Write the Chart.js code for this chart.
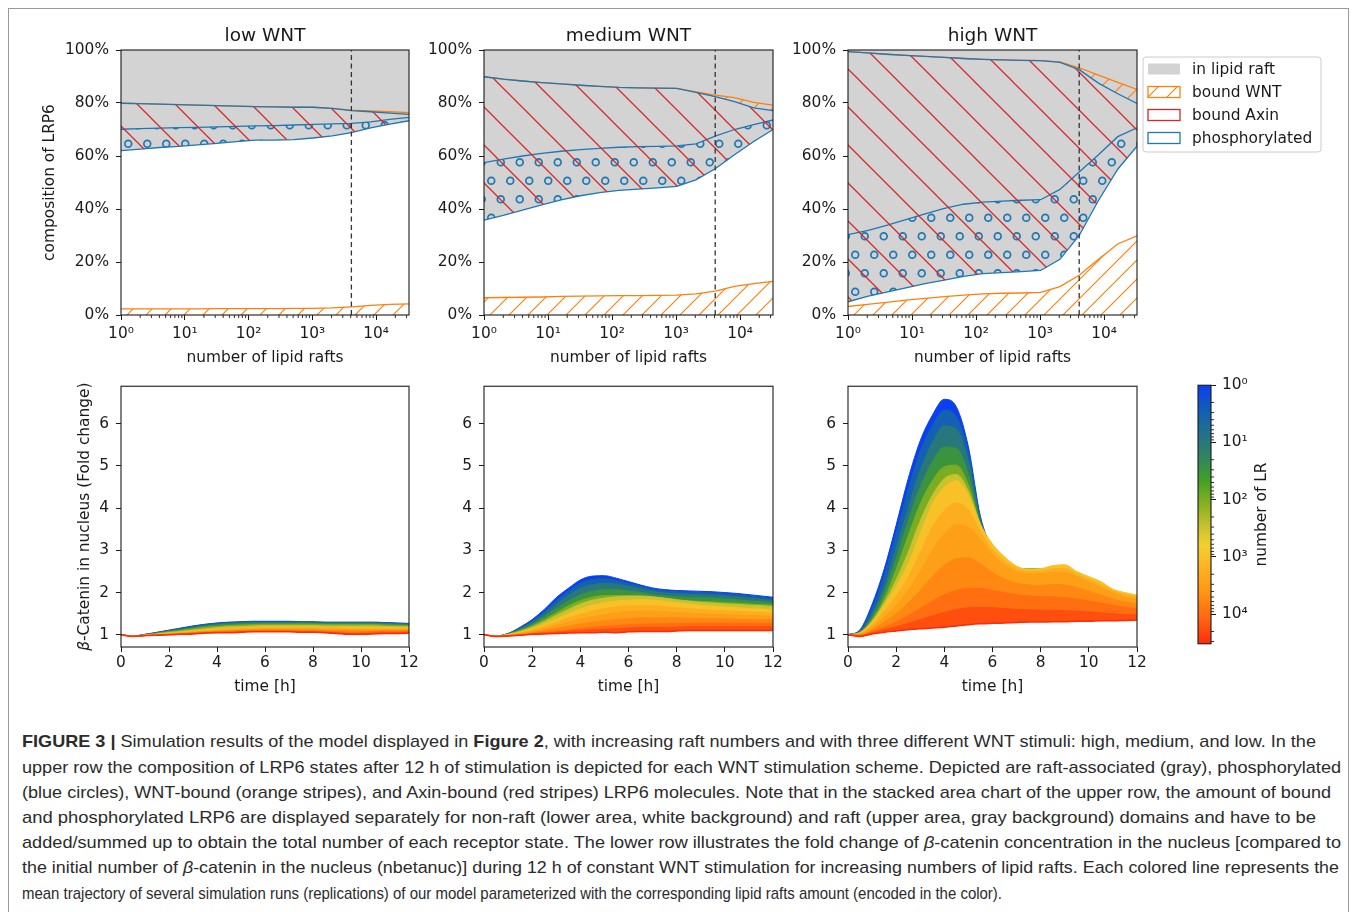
<!DOCTYPE html>
<html><head><meta charset="utf-8">
<script src="https://cdn.jsdelivr.net/npm/chart.js@4.4.0/dist/chart.umd.min.js"></script>
<style>
html,body{margin:0;padding:0;background:#fff;}
body{width:1358px;height:912px;position:relative;overflow:hidden;font-family:"DejaVu Sans";}
#frame{position:absolute;left:8px;top:8px;width:1339px;height:920px;border:1.5px solid #9a9a9a;border-bottom:none;}
canvas{position:absolute;}
#caption{position:absolute;left:22px;top:729.4px;font-family:"Liberation Sans Narrow","Liberation Sans",Arial,sans-serif;font-size:17px;color:#2b2b2b;line-height:25.2px;}
#caption .ln{white-space:nowrap;display:block;transform-origin:0 50%;width:max-content;}
</style></head>
<body>
<div id="frame"></div>
<canvas id="c1"></canvas><canvas id="c2"></canvas><canvas id="c3"></canvas>
<canvas id="c4"></canvas><canvas id="c5"></canvas><canvas id="c6"></canvas>
<canvas id="cb"></canvas>
<div id="caption">
<span class="ln" data-w="1294"><b>FIGURE 3 |</b> Simulation results of the model displayed in <b>Figure 2</b>, with increasing raft numbers and with three different WNT stimuli: high, medium, and low. In the</span>
<span class="ln" data-w="1319">upper row the composition of LRP6 states after 12 h of stimulation is depicted for each WNT stimulation scheme. Depicted are raft-associated (gray), phosphorylated</span>
<span class="ln" data-w="1309">(blue circles), WNT-bound (orange stripes), and Axin-bound (red stripes) LRP6 molecules. Note that in the stacked area chart of the upper row, the amount of bound</span>
<span class="ln" data-w="1294">and phosphorylated LRP6 are displayed separately for non-raft (lower area, white background) and raft (upper area, gray background) domains and have to be</span>
<span class="ln" data-w="1319">added/summed up to obtain the total number of each receptor state. The lower row illustrates the fold change of <i>β</i>-catenin concentration in the nucleus [compared to</span>
<span class="ln" data-w="1317">the initial number of <i>β</i>-catenin in the nucleus (nbetanuc)] during 12 h of constant WNT stimulation for increasing numbers of lipid rafts. Each colored line represents the</span>
<span class="ln" data-w="980">mean trajectory of several simulation runs (replications) of our model parameterized with the corresponding lipid rafts amount (encoded in the color).</span>
</div>
<script>
// ---------------- DATA ----------------
const panelTitles = ['low WNT', 'medium WNT', 'high WNT'];
const stateLabels = ['in lipid raft', 'bound WNT', 'bound Axin', 'phosphorylated'];
const raftCounts = [1,2,4,8,16,32,64,128,256,512,1024,2048,4096,8192,16384,32768];
const raftThreshold = 4096;
const xMajorTicks = [1,10,100,1000,10000];
const yPercentTicks = [0,20,40,60,80,100];

// low WNT (percent of LRP6, cumulative boundaries)
const lowNonRaftWnt = [2.3,2.3,2.3,2.3,2.3,2.4,2.4,2.4,2.4,2.5,2.5,2.7,3.1,3.6,4.0,4.2];
const lowRaftBase   = [62.0,62.6,63.2,63.6,64.2,64.8,65.4,66.0,66.0,66.2,66.8,67.6,68.8,70.6,72.0,73.3];
const lowPhosTop    = [70.1,70.3,70.5,70.7,70.8,71.0,71.2,71.4,71.5,71.7,71.9,72.1,72.3,72.9,73.8,74.6];
const lowAxinTop    = [79.9,79.8,79.6,79.4,79.2,79.0,78.8,78.6,78.5,78.4,78.4,78.0,77.1,76.7,76.2,75.7];
const lowRaftWntTop = [79.9,79.8,79.6,79.4,79.2,79.0,78.8,78.6,78.5,78.4,78.4,78.0,77.3,77.0,76.7,76.4];
// medium WNT
const medNonRaftWnt = [6.5,6.6,6.7,6.8,7.0,7.1,7.2,7.3,7.3,7.4,7.5,8.0,9.0,10.8,11.8,12.7];
const medRaftBase   = [35.8,37.6,39.6,41.6,43.4,45.0,46.2,47.0,47.5,48.0,48.5,51.0,55.2,60.5,65.5,70.0];
const medPhosTop    = [57.5,58.8,60.0,61.0,61.8,62.4,62.9,63.3,63.5,63.6,63.8,64.6,67.5,70.0,71.8,73.6];
const medAxinTop    = [89.9,89.0,88.3,87.7,87.2,86.7,86.3,85.9,85.7,85.6,85.5,84.0,82.4,80.5,78.2,77.1];
const medRaftWntTop = [89.9,89.0,88.3,87.7,87.2,86.7,86.3,85.9,85.7,85.6,85.5,84.2,83.0,82.0,80.2,79.2];
// high WNT
const highNonRaftWnt = [3.2,4.0,4.8,5.6,6.3,6.9,7.5,8.0,8.2,8.3,8.5,10.7,15.0,21.0,26.8,29.9];
const highRaftBase   = [5.0,7.0,8.6,10.2,11.8,13.2,14.6,15.6,16.0,16.4,16.8,21.0,30.0,43.2,55.0,63.7];
const highPhosTop    = [30.3,31.8,33.8,36.0,38.2,40.2,41.8,42.6,43.0,43.3,43.5,47.4,54.0,60.5,67.3,70.6];
const highAxinTop    = [99.4,98.9,98.4,98.0,97.6,97.2,96.8,96.5,96.3,96.1,96.0,95.3,92.6,87.5,83.5,79.8];
const highRaftWntTop = [99.4,98.9,98.4,98.0,97.6,97.2,96.8,96.5,96.3,96.1,96.0,95.5,93.3,90.5,87.8,85.1];

// fold change of nuclear beta-catenin; one row per lipid raft number
const timeHours = [0,0.5,1,1.5,2,2.5,3,3.5,4,4.5,5,5.5,6,6.5,7,7.5,8,8.5,9,9.5,10,10.5,11,11.5,12];
const timeTicks = [0,2,4,6,8,10,12];
const foldTicks = [1,2,3,4,5,6];
const lrLevels = [1,3,10,30,100,300,1000,1800,3000,5600,10000,18000,32768];
const foldLowWnt = [
 [1.00,0.97,1.01,1.06,1.11,1.16,1.21,1.25,1.28,1.30,1.31,1.32,1.32,1.32,1.32,1.31,1.31,1.30,1.30,1.30,1.30,1.30,1.29,1.28,1.27],
 [1.00,0.97,1.01,1.05,1.10,1.15,1.20,1.24,1.27,1.29,1.30,1.31,1.31,1.31,1.31,1.30,1.30,1.29,1.29,1.29,1.29,1.29,1.28,1.27,1.26],
 [1.00,0.97,1.00,1.04,1.09,1.13,1.18,1.22,1.25,1.27,1.28,1.29,1.29,1.29,1.29,1.29,1.29,1.28,1.28,1.28,1.28,1.28,1.27,1.26,1.25],
 [1.00,0.97,1.00,1.04,1.08,1.12,1.16,1.20,1.23,1.25,1.26,1.27,1.27,1.27,1.27,1.27,1.27,1.26,1.26,1.26,1.26,1.26,1.25,1.24,1.23],
 [1.00,0.97,1.00,1.03,1.07,1.10,1.14,1.18,1.20,1.22,1.23,1.24,1.25,1.25,1.25,1.25,1.25,1.24,1.24,1.24,1.24,1.24,1.23,1.22,1.21],
 [1.00,0.97,0.99,1.02,1.05,1.08,1.11,1.14,1.17,1.19,1.20,1.21,1.22,1.22,1.22,1.22,1.22,1.21,1.21,1.21,1.21,1.21,1.20,1.19,1.19],
 [1.00,0.97,0.99,1.01,1.04,1.06,1.09,1.11,1.13,1.15,1.16,1.17,1.18,1.18,1.18,1.18,1.18,1.17,1.17,1.17,1.17,1.17,1.17,1.16,1.16],
 [1.00,0.97,0.98,1.00,1.03,1.05,1.07,1.09,1.11,1.13,1.14,1.15,1.16,1.16,1.16,1.16,1.16,1.15,1.15,1.14,1.14,1.14,1.14,1.14,1.14],
 [1.00,0.97,0.98,1.00,1.02,1.04,1.06,1.08,1.10,1.11,1.12,1.13,1.14,1.14,1.14,1.14,1.14,1.13,1.13,1.12,1.12,1.12,1.12,1.12,1.12],
 [1.00,0.97,0.98,0.99,1.01,1.03,1.05,1.07,1.08,1.09,1.10,1.11,1.12,1.12,1.12,1.11,1.11,1.10,1.10,1.09,1.09,1.09,1.10,1.10,1.10],
 [1.00,0.97,0.98,0.99,1.01,1.02,1.04,1.05,1.07,1.08,1.09,1.09,1.10,1.10,1.10,1.09,1.09,1.08,1.07,1.06,1.06,1.07,1.08,1.08,1.08],
 [1.00,0.96,0.98,0.99,1.00,1.01,1.03,1.04,1.06,1.06,1.07,1.08,1.08,1.08,1.08,1.07,1.07,1.06,1.05,1.03,1.03,1.04,1.05,1.05,1.06],
 [1.00,0.96,0.98,0.99,1.00,1.01,1.02,1.04,1.05,1.05,1.06,1.07,1.07,1.07,1.07,1.06,1.06,1.05,1.03,1.01,1.01,1.02,1.03,1.03,1.04]
];
const foldMediumWnt = [
 [1.00,0.97,1.03,1.18,1.36,1.60,1.88,2.10,2.30,2.39,2.40,2.34,2.26,2.18,2.11,2.07,2.05,2.04,2.03,2.02,2.00,1.98,1.95,1.92,1.89],
 [1.00,0.97,1.03,1.16,1.33,1.55,1.81,2.03,2.22,2.31,2.33,2.29,2.22,2.15,2.08,2.04,2.02,2.01,2.00,1.99,1.97,1.95,1.92,1.89,1.86],
 [1.00,0.97,1.02,1.14,1.29,1.49,1.72,1.93,2.10,2.19,2.22,2.20,2.15,2.09,2.03,1.99,1.97,1.96,1.95,1.94,1.92,1.90,1.87,1.84,1.81],
 [1.00,0.97,1.02,1.12,1.25,1.42,1.62,1.80,1.95,2.03,2.07,2.07,2.04,2.00,1.95,1.92,1.90,1.89,1.88,1.87,1.85,1.83,1.80,1.78,1.76],
 [1.00,0.97,1.01,1.10,1.21,1.36,1.52,1.68,1.81,1.89,1.93,1.93,1.92,1.90,1.87,1.84,1.82,1.80,1.79,1.78,1.76,1.75,1.73,1.71,1.70],
 [1.00,0.97,1.01,1.08,1.18,1.31,1.46,1.60,1.73,1.82,1.87,1.90,1.92,1.92,1.90,1.87,1.83,1.80,1.77,1.75,1.73,1.72,1.70,1.69,1.67],
 [1.00,0.97,1.00,1.06,1.14,1.25,1.37,1.50,1.61,1.70,1.76,1.80,1.82,1.83,1.82,1.79,1.76,1.73,1.70,1.68,1.66,1.64,1.62,1.61,1.59],
 [1.00,0.97,0.99,1.04,1.11,1.20,1.29,1.40,1.49,1.56,1.62,1.66,1.68,1.69,1.69,1.67,1.64,1.62,1.60,1.58,1.57,1.55,1.54,1.53,1.51],
 [1.00,0.97,0.99,1.03,1.08,1.15,1.22,1.30,1.37,1.43,1.48,1.52,1.55,1.56,1.56,1.55,1.53,1.51,1.50,1.49,1.48,1.47,1.46,1.45,1.44],
 [1.00,0.97,0.98,1.01,1.05,1.10,1.15,1.20,1.25,1.30,1.33,1.36,1.38,1.40,1.40,1.40,1.40,1.39,1.38,1.38,1.38,1.37,1.37,1.36,1.36],
 [1.00,0.97,0.98,1.00,1.03,1.06,1.09,1.12,1.15,1.18,1.20,1.22,1.24,1.25,1.26,1.26,1.27,1.27,1.28,1.28,1.28,1.28,1.28,1.28,1.28],
 [1.00,0.96,0.97,0.99,1.02,1.04,1.06,1.08,1.10,1.12,1.13,1.14,1.16,1.17,1.17,1.17,1.18,1.19,1.19,1.19,1.19,1.19,1.19,1.19,1.19],
 [1.00,0.96,0.97,0.99,1.01,1.02,1.03,1.04,1.05,1.05,1.06,1.05,1.07,1.08,1.08,1.08,1.09,1.10,1.10,1.10,1.10,1.10,1.10,1.10,1.10]
];
const foldHighWnt = [
 [1.00,1.12,1.72,2.55,3.60,4.70,5.60,6.20,6.58,6.40,5.45,3.80,3.05,2.70,2.50,2.45,2.40,2.35,2.30,2.20,2.10,2.00,1.90,1.85,1.80],
 [1.00,1.10,1.62,2.40,3.40,4.45,5.35,5.95,6.32,6.17,5.30,3.75,3.00,2.68,2.50,2.47,2.42,2.38,2.32,2.22,2.12,2.02,1.92,1.87,1.82],
 [1.00,1.08,1.50,2.15,3.05,4.00,4.90,5.55,5.95,5.87,5.10,3.70,2.95,2.65,2.52,2.50,2.48,2.42,2.35,2.25,2.15,2.05,1.95,1.88,1.84],
 [1.00,1.07,1.42,2.00,2.80,3.70,4.50,5.10,5.45,5.42,4.80,3.65,2.92,2.65,2.55,2.55,2.53,2.45,2.38,2.28,2.18,2.07,1.97,1.90,1.86],
 [1.00,1.06,1.36,1.85,2.55,3.35,4.10,4.65,4.98,5.02,4.55,3.60,2.90,2.65,2.56,2.57,2.56,2.50,2.42,2.30,2.20,2.08,1.98,1.92,1.88],
 [1.00,1.05,1.32,1.76,2.30,2.95,3.70,4.30,4.70,4.80,4.40,3.60,3.00,2.72,2.60,2.56,2.56,2.60,2.60,2.45,2.33,2.20,2.05,1.97,1.92],
 [1.00,1.04,1.30,1.70,2.15,2.68,3.40,4.10,4.50,4.65,4.30,3.62,3.15,2.85,2.63,2.54,2.56,2.64,2.66,2.50,2.38,2.26,2.08,2.00,1.94],
 [1.00,1.03,1.24,1.56,1.92,2.36,2.95,3.55,3.95,4.12,3.95,3.45,3.02,2.75,2.57,2.50,2.51,2.56,2.57,2.44,2.31,2.19,2.04,1.95,1.89],
 [1.00,1.02,1.18,1.42,1.70,2.05,2.50,3.00,3.40,3.60,3.55,3.25,2.90,2.65,2.50,2.45,2.45,2.48,2.48,2.38,2.25,2.12,2.00,1.90,1.84],
 [1.00,1.00,1.12,1.30,1.50,1.75,2.05,2.38,2.65,2.80,2.82,2.68,2.48,2.32,2.22,2.18,2.17,2.19,2.18,2.12,2.03,1.94,1.85,1.78,1.73],
 [1.00,0.99,1.08,1.18,1.30,1.45,1.62,1.80,1.95,2.05,2.10,2.10,2.05,2.00,1.95,1.92,1.90,1.90,1.88,1.85,1.80,1.75,1.70,1.65,1.62],
 [1.00,0.97,1.05,1.12,1.19,1.27,1.36,1.45,1.53,1.60,1.64,1.65,1.64,1.62,1.60,1.59,1.58,1.58,1.57,1.56,1.54,1.52,1.50,1.48,1.47],
 [1.00,0.96,1.02,1.06,1.09,1.12,1.14,1.16,1.18,1.21,1.24,1.26,1.27,1.28,1.29,1.30,1.30,1.31,1.31,1.32,1.32,1.33,1.33,1.34,1.35]
];

// ---------------- STYLE ----------------
const FONT = 'DejaVu Sans';
const TXT = '#1a1a1a';
const BLUE = '#1f77b4', ORANGE = '#ff7f0e', RED = '#d62728', GRAY = '#d3d3d3';
const cmapStops = [
 [0.00,'#0a40f0'],[0.11,'#1462ae'],[0.22,'#28787c'],[0.30,'#368a52'],[0.37,'#44a024'],
 [0.46,'#88b022'],[0.55,'#cac22e'],[0.62,'#f2d030'],[0.69,'#fcb824'],[0.80,'#ff9614'],
 [0.90,'#ff6810'],[1.00,'#ff2a0c']];
function hex2rgb(h){return [1,3,5].map(i=>parseInt(h.substr(i,2),16));}
function cmap(f){
  for(let i=1;i<cmapStops.length;i++){
    if(f<=cmapStops[i][0]){
      const [f0,c0]=cmapStops[i-1],[f1,c1]=cmapStops[i];
      const t=(f-f0)/(f1-f0), a=hex2rgb(c0), b=hex2rgb(c1);
      return 'rgb('+a.map((v,k)=>Math.round(v+(b[k]-v)*t)).join(',')+')';
    }
  }
  return cmapStops[cmapStops.length-1][1];
}
const lrMaxLog = Math.log10(lrLevels[lrLevels.length-1]);
const lrColors = lrLevels.map(v=>cmap(Math.log10(v)/lrMaxLog));
const SUP = ['⁰','¹','²','³','⁴','⁵'];
const logLabel = v => '10' + SUP[Math.round(Math.log10(v))];
const minorLog = [];
for(let k=0;k<5;k++) for(let m=2;m<10;m++){ const v=m*Math.pow(10,k); if(v<=32768) minorLog.push(v); }

// hatch patterns
function makePattern(w,h,draw){
  const c=document.createElement('canvas'); c.width=w; c.height=h;
  const x=c.getContext('2d'); draw(x,w,h); return x.createPattern(c,'repeat');
}
const wntPat = makePattern(19,19,(x,s)=>{x.strokeStyle=ORANGE;x.lineWidth=1.15;x.beginPath();
  x.moveTo(0,s);x.lineTo(s,0);x.moveTo(-3,3);x.lineTo(3,-3);x.moveTo(s-3,s+3);x.lineTo(s+3,s-3);x.stroke();});
const axinPat = makePattern(38,38,(x,s)=>{x.strokeStyle=RED;x.lineWidth=1.25;x.beginPath();
  x.moveTo(0,0);x.lineTo(s,s);x.moveTo(s-3,-3);x.lineTo(s+3,3);x.moveTo(-3,s-3);x.lineTo(3,s+3);x.stroke();});
const circlePat = makePattern(19,37,(x)=>{x.strokeStyle=BLUE;x.lineWidth=1.7;
  [[4.75,9.25],[14.25,27.75]].forEach(([cx,cy])=>{x.beginPath();x.arc(cx,cy,3.4,0,Math.PI*2);x.stroke();});});

// ---------------- PLUGIN ----------------
function drawLegend(ctx, ca, L){
  const bx=ca.right+6, by=ca.top+7, bw=178, bh=95, r=3;
  ctx.beginPath(); ctx.moveTo(bx+r,by); ctx.arcTo(bx+bw,by,bx+bw,by+bh,r); ctx.arcTo(bx+bw,by+bh,bx,by+bh,r);
  ctx.arcTo(bx,by+bh,bx,by,r); ctx.arcTo(bx,by,bx+bw,by,r); ctx.closePath();
  ctx.fillStyle='rgba(255,255,255,0.8)'; ctx.fill(); ctx.strokeStyle='#cccccc'; ctx.lineWidth=1; ctx.stroke();
  L.items.forEach((it,i)=>{
    const cy=by+12+23*i, sx=bx+5, sy=cy-5.5, sw=32, sh=11;
    ctx.fillStyle='#fff'; ctx.fillRect(sx,sy,sw,sh);
    ctx.fillStyle=it.fill; ctx.fillRect(sx,sy,sw,sh);
    if(it.stroke){ctx.strokeStyle=it.stroke; ctx.lineWidth=1.3; ctx.strokeRect(sx,sy,sw,sh);}
    ctx.fillStyle=TXT; ctx.font=`15.4px "${FONT}"`; ctx.textAlign='left'; ctx.textBaseline='middle';
    ctx.fillText(it.label, bx+49, cy+1);
  });
}
const decorPlugin = {
  id:'decor',
  afterDraw(chart, args, o){
    const ctx=chart.ctx, ca=chart.chartArea;
    ctx.save();
    if(o.minor){
      const s=chart.scales[o.minor.axis]; ctx.strokeStyle=TXT; ctx.lineWidth=0.9; ctx.beginPath();
      o.minor.values.forEach(v=>{ const p=s.getPixelForValue(v);
        if(o.minor.axis==='x'){ctx.moveTo(p,ca.bottom);ctx.lineTo(p,ca.bottom+o.minor.len);}
        else {ctx.moveTo(ca.right,p);ctx.lineTo(ca.right+o.minor.len,p);} });
      ctx.stroke();
    }
    ctx.strokeStyle=TXT; ctx.lineWidth=1.1;
    ctx.strokeRect(ca.left, ca.top, ca.right-ca.left, ca.bottom-ca.top);
    ctx.fillStyle=TXT; ctx.textAlign='center'; ctx.textBaseline='middle';
    if(o.title){ ctx.font=`18.5px "${FONT}"`; ctx.fillText(o.title,(ca.left+ca.right)/2, ca.top-14); }
    if(o.xlabel){ ctx.font=`15.4px "${FONT}"`; ctx.fillText(o.xlabel.text,(ca.left+ca.right)/2, ca.bottom+o.xlabel.dy); }
    const rotLabel=(segs,x)=>{
      ctx.save(); ctx.translate(x,(ca.top+ca.bottom)/2); ctx.rotate(-Math.PI/2);
      let tot=0; const ws=segs.map(s=>{ctx.font=(s.italic?'italic ':'')+`15.4px "${FONT}"`; const w=ctx.measureText(s.t).width; tot+=w; return w;});
      let px=-tot/2; ctx.textAlign='left';
      segs.forEach((s,i)=>{ctx.font=(s.italic?'italic ':'')+`15.4px "${FONT}"`; ctx.fillText(s.t,px,0); px+=ws[i];});
      ctx.restore();
    };
    if(o.ylabel) rotLabel(o.ylabel.segs, ca.left-o.ylabel.dx);
    if(o.rlabel) rotLabel(o.rlabel.segs, ca.right+o.rlabel.dx);
    if(o.legend) drawLegend(ctx, ca, o.legend);
    ctx.restore();
  }
};

// ---------------- BUILDERS ----------------
function place(id, plot, m){
  const c=document.getElementById(id);
  c.width=m.l+plot.w+m.r; c.height=m.t+plot.h+m.b;
  c.style.left=(plot.x-m.l)+'px'; c.style.top=(plot.y-m.t)+'px';
  return c;
}
function tickFont(){return {family:FONT,size:15.4};}
function gridStyle(){return {display:true,drawOnChartArea:false,drawTicks:true,tickLength:5,color:TXT,tickColor:TXT,lineWidth:1};}

function compositionChart(id, plot, m, title, base, phos, axin, raftWnt, nonRaftWnt, opts){
  const pts = arr => raftCounts.map((x,i)=>({x, y:arr[i]}));
  const ds = [
    {data:pts(base), borderColor:BLUE, borderWidth:1.3, backgroundColor:GRAY, fill:'end', order:10},
    {data:pts(phos), borderColor:BLUE, borderWidth:1.3, backgroundColor:circlePat, fill:0, order:9},
    {data:pts(raftWnt), borderColor:ORANGE, borderWidth:1.3, backgroundColor:wntPat, fill:3, order:8},
    {data:pts(axin), borderColor:BLUE, borderWidth:1.3, backgroundColor:axinPat, fill:0, order:7},
    {data:pts(nonRaftWnt), borderColor:ORANGE, borderWidth:1.3, backgroundColor:wntPat, fill:'origin', order:6},
    {data:[{x:raftThreshold,y:yPercentTicks[0]},{x:raftThreshold,y:yPercentTicks[yPercentTicks.length-1]}],
     borderColor:'#333', borderWidth:1.3, borderDash:[5,3.5], fill:false, order:1}
  ];
  const c=place(id,plot,m);
  const decor={title, xlabel:{text:'number of lipid rafts', dy:43}, minor:{axis:'x',values:minorLog,len:3}};
  if(opts.ylabel) decor.ylabel={segs:[{t:'composition of LRP6'}], dx:71};
  if(opts.legend) decor.legend={items:[
    {label:stateLabels[0], fill:GRAY},
    {label:stateLabels[1], fill:wntPat, stroke:ORANGE},
    {label:stateLabels[2], fill:'#ffffff', stroke:RED},
    {label:stateLabels[3], fill:'#ffffff', stroke:BLUE}]};
  return new Chart(c,{type:'line',data:{datasets:ds},plugins:[decorPlugin],options:{
    responsive:false,animation:false,devicePixelRatio:1,
    layout:{padding:{left:0,top:m.t,right:m.r,bottom:0}},
    elements:{point:{radius:0}},
    plugins:{legend:{display:false},tooltip:{enabled:false},decor},
    scales:{
      x:{type:'logarithmic',min:raftCounts[0],max:raftCounts[raftCounts.length-1],
        afterFit:s=>{s.height=m.b;}, afterBuildTicks:s=>{s.ticks=xMajorTicks.map(v=>({value:v}));},
        grid:gridStyle(), border:{display:false},
        ticks:{color:TXT,font:tickFont(),padding:5,maxRotation:0,autoSkip:false,callback:v=>logLabel(v)}},
      y:{type:'linear',min:0,max:100,
        afterFit:s=>{s.width=m.l;}, afterBuildTicks:s=>{s.ticks=yPercentTicks.map(v=>({value:v}));},
        grid:gridStyle(), border:{display:false},
        ticks:{color:TXT,font:tickFont(),padding:7,callback:v=>v+'%'}}
    }}});
}

function foldChart(id, plot, m, rows, opts){
  const n=rows.length, red=n-1;
  const ds=rows.map((row,i)=>({
    data:timeHours.map((t,j)=>({x:t,y:row[j]})),
    borderColor:lrColors[i], backgroundColor:lrColors[i], borderWidth:i===red?1.5:1,
    fill:i===red?false:red, order:n-i, cubicInterpolationMode:'monotone'
  }));
  const c=place(id,plot,m);
  const decor={xlabel:{text:'time [h]',dy:40}};
  if(opts.ylabel) decor.ylabel={segs:[{t:'β',italic:true},{t:'-Catenin in nucleus (Fold change)'}],dx:36};
  return new Chart(c,{type:'line',data:{datasets:ds},plugins:[decorPlugin],options:{
    responsive:false,animation:false,devicePixelRatio:1,
    layout:{padding:{left:0,top:m.t,right:m.r,bottom:0}},
    elements:{point:{radius:0}},
    plugins:{legend:{display:false},tooltip:{enabled:false},decor},
    scales:{
      x:{type:'linear',min:timeTicks[0],max:timeTicks[timeTicks.length-1],
        afterFit:s=>{s.height=m.b;}, afterBuildTicks:s=>{s.ticks=timeTicks.map(v=>({value:v}));},
        grid:gridStyle(), border:{display:false},
        ticks:{color:TXT,font:tickFont(),padding:2,maxRotation:0,autoSkip:false}},
      y:{type:'linear',min:0.71,max:6.89,
        afterFit:s=>{s.width=m.l;}, afterBuildTicks:s=>{s.ticks=foldTicks.map(v=>({value:v}));},
        grid:gridStyle(), border:{display:false},
        ticks:{color:TXT,font:tickFont(),padding:7}}
    }}});
}

function colorbarChart(id, plot, m){
  const c=place(id,plot,m);
  const grad = (ctx)=>{
    const ca=ctx.chart.chartArea; if(!ca) return lrColors[0];
    const g=ctx.chart.ctx.createLinearGradient(0,ca.top,0,ca.bottom);
    cmapStops.forEach(([f,col])=>g.addColorStop(f,col)); return g;
  };
  return new Chart(c,{type:'bar',
    data:{labels:[''],datasets:[{data:[[lrLevels[0],lrLevels[lrLevels.length-1]]],backgroundColor:grad,borderWidth:0,barPercentage:1,categoryPercentage:1}]},
    plugins:[decorPlugin],
    options:{responsive:false,animation:false,devicePixelRatio:1,
      layout:{padding:{left:m.l,top:m.t,right:0,bottom:m.b}},
      plugins:{legend:{display:false},tooltip:{enabled:false},
        decor:{minor:{axis:'y',values:minorLog,len:3},rlabel:{segs:[{t:'number of LR'}],dx:51}}},
      scales:{
        x:{display:false},
        y:{type:'logarithmic',position:'right',reverse:true,min:lrLevels[0],max:lrLevels[lrLevels.length-1],
          afterFit:s=>{s.width=m.r;}, afterBuildTicks:s=>{s.ticks=xMajorTicks.map(v=>({value:v}));},
          grid:gridStyle(), border:{display:false},
          ticks:{color:TXT,font:tickFont(),padding:6,callback:v=>logLabel(v)}}
      }}});
}

// ---------------- LAYOUT ----------------
const topM1={l:121,t:45,r:12,b:56}, topM={l:64,t:45,r:12,b:56}, topM3={l:64,t:45,r:200,b:56};
const botM1={l:121,t:12,r:12,b:52}, botM={l:64,t:12,r:12,b:52};
compositionChart('c1',{x:121,y:50,w:288,h:265},topM1,panelTitles[0],lowRaftBase,lowPhosTop,lowAxinTop,lowRaftWntTop,lowNonRaftWnt,{ylabel:true});
compositionChart('c2',{x:484,y:50,w:289,h:265},topM,panelTitles[1],medRaftBase,medPhosTop,medAxinTop,medRaftWntTop,medNonRaftWnt,{});
compositionChart('c3',{x:848,y:50,w:289,h:265},topM3,panelTitles[2],highRaftBase,highPhosTop,highAxinTop,highRaftWntTop,highNonRaftWnt,{legend:true});
foldChart('c4',{x:121,y:382,w:288,h:265},botM1,foldLowWnt,{ylabel:true});
foldChart('c5',{x:484,y:382,w:289,h:265},botM,foldMediumWnt,{});
foldChart('c6',{x:848,y:382,w:289,h:265},botM,foldHighWnt,{});
colorbarChart('cb',{x:1198,y:382,w:13,h:265},{l:4,t:12,r:90,b:12});

// caption: each line fitted horizontally to its measured extent in the figure
(function(){
  const lines=[...document.querySelectorAll('#caption .ln')];
  const natural=lines.map(el=>el.getBoundingClientRect().width);
  lines.forEach((el,i)=>{ el.style.transform='scaleX('+((+el.dataset.w)/natural[i])+')'; });
})();
</script>
</body></html>
